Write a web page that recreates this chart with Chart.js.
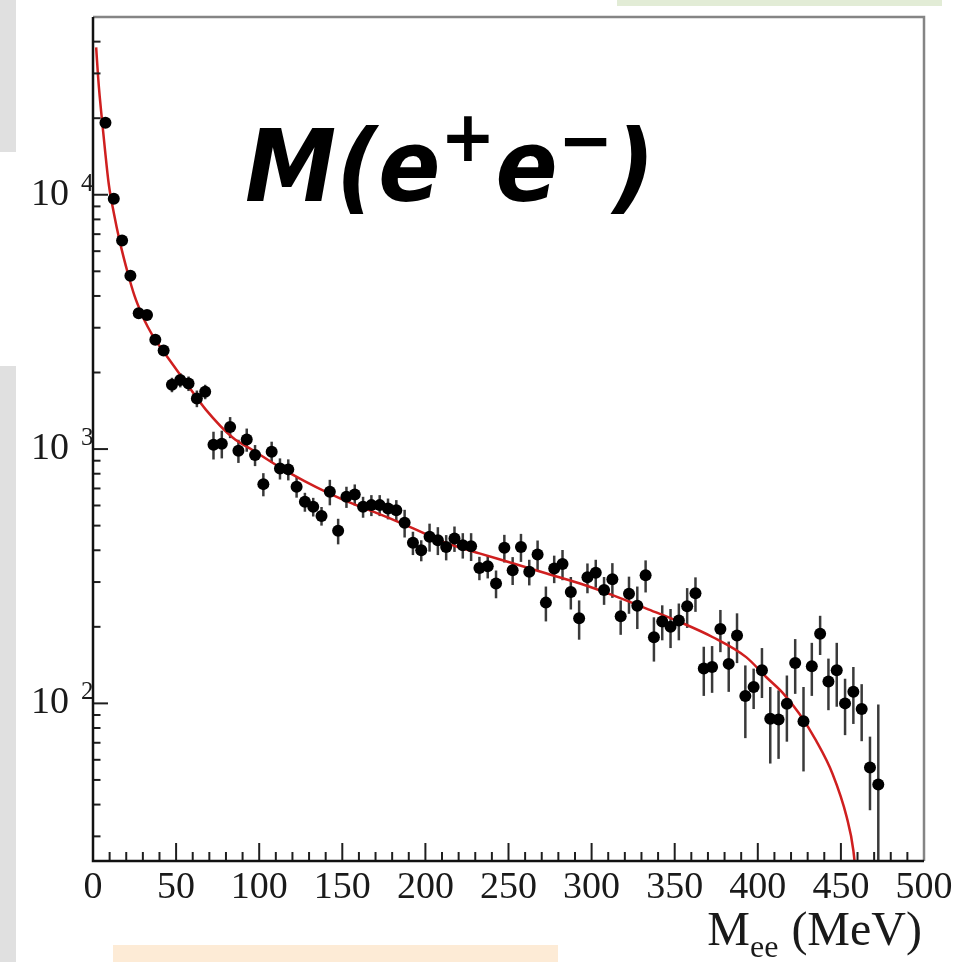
<!DOCTYPE html>
<html>
<head>
<meta charset="utf-8">
<script src="https://cdn.jsdelivr.net/npm/chart.js@4"></script>
<style>
  html, body { margin: 0; padding: 0; background: #fff; }
  #wrap { position: relative; width: 969px; height: 962px; overflow: hidden; background: #fff; }
  .band { position: absolute; }
  #massChart { position: absolute; left: 0; top: 0; }
</style>
</head>
<body>
<div id="wrap">
  <div class="band" style="left:0;top:0;width:16px;height:152px;background:#e0e0e0"></div>
  <div class="band" style="left:0;top:366px;width:16px;height:596px;background:#e0e0e0"></div>
  <div class="band" style="left:617px;top:0;width:325px;height:6px;background:#e2ecd6"></div>
  <div class="band" style="left:113px;top:945px;width:445px;height:17px;background:#fdebd6"></div>
  <canvas id="massChart" width="969" height="962"></canvas>
</div>
<script>
// invariant mass bins (MeV), 5 MeV wide
const massBins = [
  7.5, 12.5, 17.5, 22.5, 27.5, 32.5, 37.5, 42.5, 47.5, 52.5,
  57.5, 62.5, 67.5, 72.5, 77.5, 82.5, 87.5, 92.5, 97.5, 102.5,
  107.5, 112.5, 117.5, 122.5, 127.5, 132.5, 137.5, 142.5, 147.5, 152.5,
  157.5, 162.5, 167.5, 172.5, 177.5, 182.5, 187.5, 192.5, 197.5, 202.5,
  207.5, 212.5, 217.5, 222.5, 227.5, 232.5, 237.5, 242.5, 247.5, 252.5,
  257.5, 262.5, 267.5, 272.5, 277.5, 282.5, 287.5, 292.5, 297.5, 302.5,
  307.5, 312.5, 317.5, 322.5, 327.5, 332.5, 337.5, 342.5, 347.5, 352.5,
  357.5, 362.5, 367.5, 372.5, 377.5, 382.5, 387.5, 392.5, 397.5, 402.5,
  407.5, 412.5, 417.5, 422.5, 427.5, 432.5, 437.5, 442.5, 447.5, 452.5,
  457.5, 462.5, 467.5, 472.5
];

// entries per bin
const counts = [
  19200, 9650, 6610, 4800, 3420, 3370, 2690, 2440, 1790, 1870,
  1810, 1580, 1680, 1040, 1050, 1220, 985, 1090, 947, 728,
  976, 839, 832, 711, 620, 593, 546, 679, 477, 649,
  663, 593, 602, 602, 584, 575, 513, 428, 400, 452,
  438, 412, 445, 419, 415, 341, 346, 296, 409, 334,
  412, 329, 385, 249, 339, 353, 274, 216, 313, 326,
  279, 308, 220, 270, 242, 319, 182, 210, 200, 212,
  241, 271, 137, 139, 196, 143, 185, 107, 116, 135,
  87, 86.5, 99.7, 144, 85, 140, 188, 122, 135, 100,
  111, 95, 56, 48
];

// symmetric errors on the entries
const errors = [
  500, 270, 240, 180, 126, 124, 125, 113, 117, 122,
  119, 119, 110, 130, 131, 116, 103, 114, 90, 76,
  93, 80, 79, 67, 53, 50, 46, 78, 55, 62,
  63, 56, 57, 57, 55, 55, 64, 45, 38, 57,
  55, 47, 51, 48, 52, 36, 36, 37, 51, 42,
  52, 38, 52, 39, 42, 48, 40, 38, 42, 41,
  35, 48, 34, 45, 46, 46, 36, 33, 35, 35,
  43, 42, 30, 29, 37, 32, 41, 34, 21, 30,
  29, 26, 29, 35, 31, 33, 33, 28, 38, 25,
  28, 24, 18, 51
];

// fitted spectrum, sampled
const fitMass = [
  1.9, 3, 4, 5.3, 7, 9.5, 12.5, 16, 21, 25, 29, 33, 37.5, 44, 56, 68, 84, 96,
  112, 127, 142, 158, 172, 185, 193, 213, 233, 253, 273, 293, 313, 333, 353,
  373, 393, 405, 415, 425, 435, 445, 453.5, 457.5, 461
];
const fitValue = [
  38000, 29500, 24500, 20000, 15500, 11000, 8500, 6600, 4900, 4000, 3430, 3020,
  2690, 2340, 1820, 1426, 1110, 991, 851, 750, 670, 603, 556, 513, 487, 426,
  388, 355, 324, 296, 266, 236, 209, 182, 152, 127, 110, 91, 71.5, 52.8, 35.7,
  26.4, 15
];

const xTicks = [0, 50, 100, 150, 200, 250, 300, 350, 400, 450, 500];
const yDecades = [100, 1000, 10000];
const titleParts = ['M(e', '+', 'e', '\u2212', ')'];
const axisTitle = ['M', 'ee', '(MeV)'];

const serif = "'Liberation Serif', 'Times New Roman', serif";

// error bars under the markers
const errorBars = {
  id: 'errorBars',
  beforeDatasetsDraw(chart) {
    const { ctx, chartArea: a, scales: { x, y } } = chart;
    ctx.save();
    ctx.beginPath();
    ctx.rect(a.left, a.top, a.right - a.left, a.bottom - a.top);
    ctx.clip();
    ctx.strokeStyle = '#3a3a3a';
    ctx.lineWidth = 2.5;
    massBins.forEach((m, i) => {
      const px = x.getPixelForValue(m);
      const hi = y.getPixelForValue(counts[i] + errors[i]);
      const lowVal = counts[i] - errors[i];
      const lo = lowVal > 1 ? y.getPixelForValue(lowVal) : a.bottom + 5;
      ctx.beginPath();
      ctx.moveTo(px, hi);
      ctx.lineTo(px, lo);
      ctx.stroke();
    });
    ctx.restore();
  }
};

// inward ticks and the frame
const frame = {
  id: 'frame',
  afterDatasetsDraw(chart) {
    const { ctx, chartArea: a, scales: { x, y } } = chart;
    ctx.save();
    ctx.strokeStyle = '#1e1e1e';
    ctx.lineWidth = 2;
    // x ticks: majors every 50, minors every 10
    for (let v = 0; v <= 500; v += 10) {
      const px = x.getPixelForValue(v);
      const len = v % 50 === 0 ? 18 : 9;
      ctx.beginPath();
      ctx.moveTo(px, a.bottom);
      ctx.lineTo(px, a.bottom - len);
      ctx.stroke();
    }
    // y ticks on the log axis
    for (let d = 10; d <= 10000; d *= 10) {
      for (let k = 1; k <= 9; k++) {
        const v = d * k;
        if (v < y.min || v > y.max) continue;
        const py = y.getPixelForValue(v);
        const len = k === 1 ? 15 : 7.5;
        ctx.beginPath();
        ctx.moveTo(a.left, py);
        ctx.lineTo(a.left + len, py);
        ctx.stroke();
      }
    }
    // top and right edges
    ctx.strokeStyle = '#858585';
    ctx.lineWidth = 2.5;
    ctx.beginPath();
    ctx.moveTo(a.left, a.top);
    ctx.lineTo(a.right, a.top);
    ctx.lineTo(a.right, a.bottom);
    ctx.stroke();
    // axes
    ctx.strokeStyle = '#111';
    ctx.beginPath();
    ctx.moveTo(a.left, a.top);
    ctx.lineTo(a.left, a.bottom);
    ctx.lineTo(a.right, a.bottom);
    ctx.stroke();
    ctx.restore();
  },
  afterDraw(chart) {
    const { ctx, scales: { y } } = chart;
    ctx.save();
    ctx.fillStyle = '#1a1a1a';
    // decade exponents next to the "10" labels
    ctx.font = '25px ' + serif;
    ctx.textAlign = 'left';
    ctx.textBaseline = 'alphabetic';
    yDecades.forEach(v => {
      const py = y.getPixelForValue(v);
      ctx.fillText(String(Math.round(Math.log10(v))), 81, py - 4);
    });

    // x axis title, right aligned to the frame
    ctx.textAlign = 'right';
    ctx.font = '48px ' + serif;
    ctx.fillText(axisTitle[2], 922, 945);
    const wUnit = ctx.measureText(axisTitle[2]).width;
    ctx.font = '32px ' + serif;
    ctx.fillText(axisTitle[1], 922 - wUnit - 13, 957);
    const wSub = ctx.measureText(axisTitle[1]).width;
    ctx.font = '48px ' + serif;
    ctx.fillText(axisTitle[0], 922 - wUnit - 13 - wSub, 945);

    // big label inside the frame
    const big = "italic bold 100px 'DejaVu Sans'";
    const sup = "italic bold 72px 'DejaVu Sans'";
    const styles = [
      { f: big, dy: 0 }, { f: sup, dy: -40 }, { f: big, dy: 0 },
      { f: sup, dy: -36 }, { f: big, dy: 0 }
    ];
    let total = 0;
    const widths = titleParts.map((t, i) => {
      ctx.font = styles[i].f;
      const w = ctx.measureText(t).width;
      total += w;
      return w;
    });
    const sx = 410 / total;
    ctx.translate(245, 201);
    ctx.scale(sx, 1);
    ctx.fillStyle = '#000';
    ctx.textAlign = 'left';
    let cx = 0;
    titleParts.forEach((t, i) => {
      ctx.font = styles[i].f;
      ctx.fillText(t, cx, styles[i].dy);
      cx += widths[i];
    });
    ctx.restore();
  }
};

const ctx = document.getElementById('massChart').getContext('2d');
new Chart(ctx, {
  type: 'line',
  data: {
    datasets: [
      {
        label: 'data',
        data: massBins.map((m, i) => ({ x: m, y: counts[i] })),
        showLine: false,
        pointRadius: 6,
        pointBackgroundColor: '#000',
        pointBorderWidth: 0,
        order: 1
      },
      {
        label: 'fit',
        data: fitMass.map((m, i) => ({ x: m, y: fitValue[i] })),
        borderColor: '#cf1f1f',
        borderWidth: 2.5,
        pointRadius: 0,
        cubicInterpolationMode: 'monotone',
        fill: false,
        order: 2
      }
    ]
  },
  options: {
    responsive: false,
    animation: false,
    devicePixelRatio: 1,
    layout: { padding: { left: 0, top: 17, right: 45, bottom: 0 } },
    plugins: { legend: { display: false }, tooltip: { enabled: false } },
    scales: {
      x: {
        type: 'linear',
        min: 0,
        max: 500,
        grid: { display: false, drawTicks: false },
        border: { display: false },
        afterBuildTicks(s) { s.ticks = xTicks.map(v => ({ value: v })); },
        ticks: {
          font: { family: serif, size: 38 },
          color: '#1a1a1a',
          padding: 4,
          maxRotation: 0,
          autoSkip: false
        },
        afterFit(s) { s.height = 101; s.paddingLeft = 0; s.paddingRight = 0; }
      },
      y: {
        type: 'logarithmic',
        min: 24,
        max: 50000,
        grid: { display: false, drawTicks: false },
        border: { display: false },
        afterBuildTicks(s) { s.ticks = yDecades.map(v => ({ value: v })); },
        ticks: {
          callback: () => '10',
          font: { family: serif, size: 38 },
          color: '#1a1a1a',
          padding: 24
        },
        afterFit(s) { s.width = 93; s.paddingTop = 0; s.paddingBottom = 0; }
      }
    }
  },
  plugins: [errorBars, frame]
});
</script>
</body>
</html>
